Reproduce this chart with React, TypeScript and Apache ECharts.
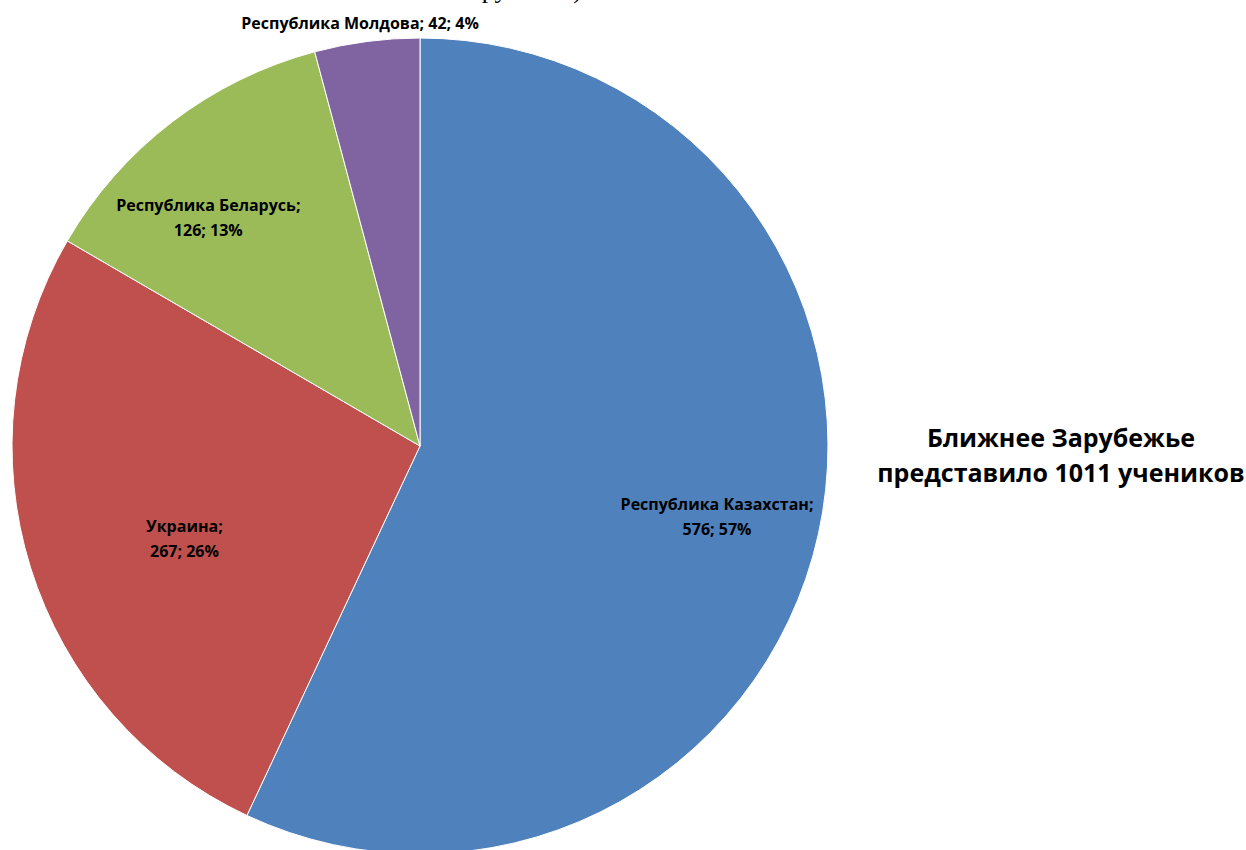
import React, { useEffect, useRef } from "react";
import * as echarts from "echarts";

const countries = [
  "Республика Казахстан",
  "Украина",
  "Республика Беларусь",
  "Республика Молдова",
];
const students = [576, 267, 126, 42];
const colors = ["#4F81BD", "#C0504D", "#9BBB59", "#8064A2"];
const labelOffsets: [number, number][] = [
  [95, 26],
  [-38, 31],
  [-86, -64],
  [-33, -218],
];
const titleLines = ["Ближнее Зарубежье", "представило 1011 учеников"];

export default function App() {
  const ref = useRef<HTMLDivElement>(null);
  useEffect(() => {
    const chart = echarts.init(ref.current!, null, { renderer: "svg" });
    const font = "'Open Sans', 'Noto Sans', sans-serif";
    chart.setOption({
      animation: false,
      title: {
        text: titleLines.join("\n"),
        left: 1056,
        top: 414,
        textAlign: "center",
        textStyle: {
          fontFamily: font,
          fontWeight: "bold",
          fontSize: 25,
          lineHeight: 35,
          color: "#000",
        },
      },
      graphic: [
        {
          type: "text",
          right: 664,
          top: -24,
          style: {
            text: "Зарубежья)",
            font: "26px 'Liberation Serif', serif",
            fill: "#000",
          },
        },
      ],
      series: [
        {
          type: "pie",
          center: [420, 446],
          radius: 408,
          startAngle: 90,
          clockwise: true,
          percentPrecision: 0,
          itemStyle: { borderColor: "#fff", borderWidth: 1 },
          labelLine: { show: false },
          label: {
            position: "inside",
            fontFamily: font,
            fontWeight: "bold",
            fontSize: 16,
            lineHeight: 25,
            color: "#000",
            align: "center",
            formatter: (p: any) =>
              p.dataIndex === 3
                ? `${p.name}; ${p.value}; ${p.percent}%`
                : `${p.name};\n${p.value}; ${p.percent}%`,
          },
          data: countries.map((name, i) => ({
            name,
            value: students[i],
            itemStyle: { color: colors[i] },
            label: { offset: labelOffsets[i] },
          })),
        },
      ],
    });
    return () => chart.dispose();
  }, []);
  return (
    <div
      ref={ref}
      style={{ position: "absolute", left: 0, top: 0, width: 1246, height: 850, background: "#fff" }}
    />
  );
}
